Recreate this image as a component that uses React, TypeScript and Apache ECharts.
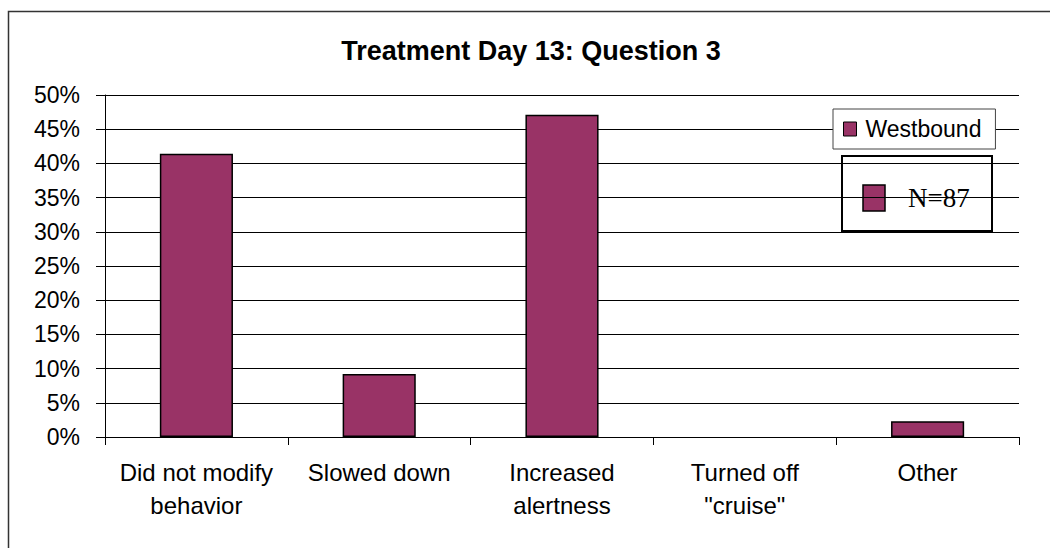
import React, { useEffect, useRef } from "react";
import * as echarts from "echarts";

const title = "Treatment Day 13: Question 3";
const categories = [
  "Did not modify\nbehavior",
  "Slowed down",
  "Increased\nalertness",
  "Turned off\n\"cruise\"",
  "Other",
];
const seriesName = "Westbound";
const westbound = [0.414, 0.092, 0.471, 0, 0.023];
const yMin = 0;
const yMax = 0.5;
const yStep = 0.05;
const noteText = "N=87";

const BAR = "#993366";

export default function App() {
  const ref = useRef<HTMLDivElement>(null);
  useEffect(() => {
    if (!ref.current) return;
    const chart = echarts.init(ref.current, null, { renderer: "svg" });
    chart.setOption({
      animation: false,
      backgroundColor: "#ffffff",
      title: {
        text: title,
        left: 531,
        textAlign: "center",
        top: 37,
        padding: 0,
        textStyle: {
          fontFamily: "Liberation Sans, Arial, sans-serif",
          fontWeight: "bold",
          fontSize: 27,
          color: "#000",
        },
      },
      legend: {
        data: [seriesName],
        left: 833,
        top: 109,
        orient: "horizontal",
        padding: [7, 14, 7, 10],
        borderColor: "#444",
        borderWidth: 1,
        backgroundColor: "#fff",
        itemWidth: 13,
        itemHeight: 14,
        icon: "rect",
        itemStyle: { borderColor: "#000", borderWidth: 1 },
        textStyle: {
          fontFamily: "Liberation Sans, Arial, sans-serif",
          fontSize: 23,
          color: "#000",
          lineHeight: 26,
          padding: [0, 0, 0, 4],
        },
      },
      grid: { left: 105, right: 31, top: 95, bottom: 111, containLabel: false },
      xAxis: {
        type: "category",
        data: categories,
        axisLine: { show: true, lineStyle: { color: "#000", width: 1 } },
        axisTick: { show: true, length: 8, lineStyle: { color: "#000" } },
        axisLabel: {
          interval: 0,
          margin: 19,
          fontFamily: "Liberation Sans, Arial, sans-serif",
          fontSize: 24,
          lineHeight: 33,
          color: "#000",
        },
      },
      yAxis: {
        type: "value",
        min: yMin,
        max: yMax,
        interval: yStep,
        axisLine: { show: true, lineStyle: { color: "#000", width: 1 } },
        axisTick: { show: true, length: 9, lineStyle: { color: "#000" } },
        splitLine: { show: true, lineStyle: { color: "#000", width: 1 } },
        axisLabel: {
          margin: 25,
          fontFamily: "Liberation Sans, Arial, sans-serif",
          fontSize: 23,
          color: "#000",
          formatter: (v: number) => `${Math.round(v * 100)}%`,
        },
      },
      series: [
        {
          name: seriesName,
          type: "bar",
          data: westbound.map((v) =>
            v === 0 ? { value: v, itemStyle: { borderWidth: 0, opacity: 0 } } : v
          ),
          barWidth: "40%",
          itemStyle: { color: BAR, borderColor: "#000", borderWidth: 1.5 },
        },
      ],
      graphic: [
        {
          type: "rect",
          shape: { x: 8.5, y: 11.5, width: 1100, height: 600 },
          style: { fill: "none", stroke: "#333", lineWidth: 1.5 },
          silent: true,
          z: 100,
        },
        {
          type: "group",
          left: 841,
          top: 155,
          z: 100,
          children: [
            {
              type: "rect",
              shape: { x: 0, y: 0, width: 150, height: 75 },
              style: { fill: "#fff", stroke: "#000", lineWidth: 2 },
            },
            {
              type: "rect",
              shape: { x: 21, y: 29, width: 22, height: 26 },
              style: { fill: BAR, stroke: "#000", lineWidth: 1.5 },
            },
            {
              type: "text",
              x: 66,
              y: 55,
              style: {
                text: noteText,
                fill: "#000",
                font: "27px 'Liberation Serif', 'Times New Roman', serif",
                verticalAlign: "bottom",
              },
            },
          ],
        },
      ],
    });
    return () => chart.dispose();
  }, []);
  return (
    <div
      ref={ref}
      style={{ position: "fixed", left: 0, top: 0, width: 1050, height: 548 }}
    />
  );
}
